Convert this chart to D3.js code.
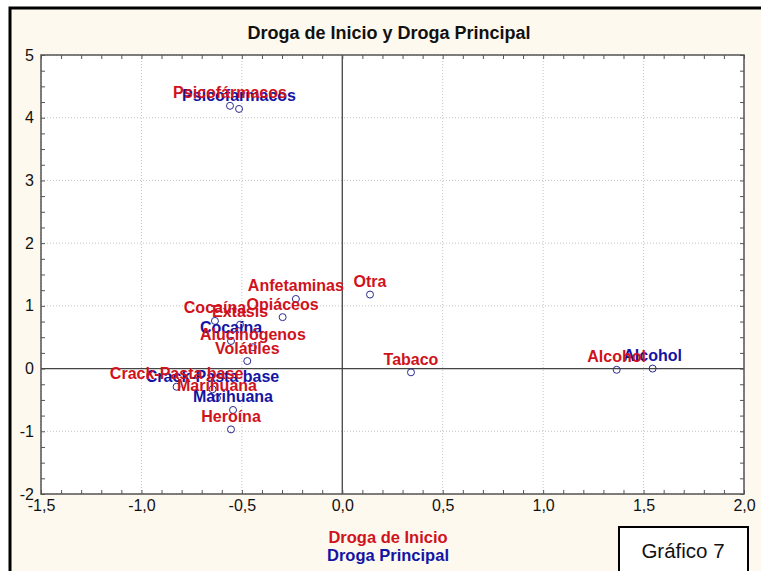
<!DOCTYPE html>
<html>
<head>
<meta charset="utf-8">
<script src="https://cdn.jsdelivr.net/npm/d3@7"></script>
<style>
  html, body { margin: 0; background: #fff; overflow: hidden; }
  svg { display: block; font-family: Arial, "Liberation Sans", sans-serif; }
</style>
</head>
<body>
<div class="chart"></div>
<script>
// Droga de Inicio (red)
var inicioNames = ["Psicofármacos", "Anfetaminas", "Otra", "Opiáceos", "Cocaína", "Extasis",
    "Alucinógenos", "Volátiles", "Tabaco", "Alcohol", "Crack-Pasta base", "Marihuana", "Heroína"];
var inicioX = [-0.559, -0.231, 0.138, -0.297, -0.634, -0.509, -0.445, -0.473, 0.342, 1.366, -0.825, -0.624, -0.554];
var inicioY = [4.19, 1.11, 1.18, 0.82, 0.76, 0.70, 0.34, 0.12, -0.06, -0.02, -0.29, -0.47, -0.97];

// Droga Principal (blue)
var principalNames = ["Psicofarmacos", "Cocaína", "Crack-Pasta base", "Marihuana", "Alcohol"];
var principalX = [-0.514, -0.554, -0.646, -0.544, 1.545];
var principalY = [4.14, 0.44, -0.33, -0.66, 0.00];

var xTicks = [-1.5, -1.0, -0.5, 0.0, 0.5, 1.0, 1.5, 2.0];
var yTicks = [-2, -1, 0, 1, 2, 3, 4, 5];

var dim = {
    width: 761, height: 571,
    plot: { left: 41, top: 55, right: 744, bottom: 494 }
};

var red = "#d0121c", blue = "#1414a4";
var font = "Arial, 'Liberation Sans', sans-serif";

var x = d3.scaleLinear().domain([-1.5, 2.0]).range([dim.plot.left, dim.plot.right]);
var y = d3.scaleLinear().domain([-2, 5]).range([dim.plot.bottom, dim.plot.top]);

var svg = d3.select(".chart").append("svg")
    .attr("width", dim.width)
    .attr("height", dim.height);

// cream panel, only its top and left border show
svg.append("rect")
    .attr("x", 10).attr("y", 8)
    .attr("width", dim.width).attr("height", dim.height)
    .attr("fill", "#fdf9ef");
svg.append("path")
    .attr("d", "M10," + dim.height + "V8H" + dim.width)
    .attr("fill", "none")
    .attr("stroke", "#000")
    .attr("stroke-width", 3);

svg.append("text")
    .attr("x", 389).attr("y", 39)
    .attr("text-anchor", "middle")
    .style("font-size", "18px")
    .style("font-weight", "bold")
    .attr("fill", "#111")
    .text("Droga de Inicio y Droga Principal");

var pw = dim.plot.right - dim.plot.left, ph = dim.plot.bottom - dim.plot.top;

svg.append("rect")
    .attr("x", dim.plot.left).attr("y", dim.plot.top)
    .attr("width", pw).attr("height", ph)
    .attr("fill", "#fff");

// grid
var grid = svg.append("g").attr("stroke", "#c4c4c4").attr("stroke-dasharray", "1,2");
grid.selectAll("line.gx").data(xTicks.filter(function(d) { return d !== 0; })).enter()
    .append("line")
    .attr("x1", function(d) { return x(d); }).attr("x2", function(d) { return x(d); })
    .attr("y1", dim.plot.top).attr("y2", dim.plot.bottom);
grid.selectAll("line.gy").data(yTicks.filter(function(d) { return d !== 0; })).enter()
    .append("line")
    .attr("y1", function(d) { return y(d); }).attr("y2", function(d) { return y(d); })
    .attr("x1", dim.plot.left).attr("x2", dim.plot.right);

// zero lines
svg.append("line")
    .attr("x1", x(0)).attr("x2", x(0))
    .attr("y1", dim.plot.top).attr("y2", dim.plot.bottom)
    .attr("stroke", "#444").attr("stroke-width", 1.3);
svg.append("line")
    .attr("y1", y(0)).attr("y2", y(0))
    .attr("x1", dim.plot.left).attr("x2", dim.plot.right)
    .attr("stroke", "#444").attr("stroke-width", 1.3);

// small inside ticks on all four sides
var xMinor = d3.range(-15, 21).map(function(i) { return i / 10; });
var yMinor = d3.range(-8, 21).map(function(i) { return i / 4; });

function tickAxis(axis, t) {
    svg.append("g")
        .attr("transform", t)
        .call(axis.tickSize(-4).tickFormat(""))
        .call(function(g) {
            g.select(".domain").remove();
            g.selectAll("line").attr("stroke", "#555");
        });
}
tickAxis(d3.axisBottom(x).tickValues(xMinor), "translate(0," + dim.plot.bottom + ")");
tickAxis(d3.axisTop(x).tickValues(xMinor), "translate(0," + dim.plot.top + ")");
tickAxis(d3.axisLeft(y).tickValues(yMinor), "translate(" + dim.plot.left + ",0)");
tickAxis(d3.axisRight(y).tickValues(yMinor), "translate(" + dim.plot.right + ",0)");

// frame
svg.append("rect")
    .attr("x", dim.plot.left).attr("y", dim.plot.top)
    .attr("width", pw).attr("height", ph)
    .attr("fill", "none")
    .attr("stroke", "#555")
    .attr("stroke-width", 1.5);

// tick labels
var fmt = function(d) { return d3.format(".1f")(d).replace(".", ",").replace("−", "-"); };
svg.append("g")
    .attr("transform", "translate(0," + dim.plot.bottom + ")")
    .call(d3.axisBottom(x).tickValues(xTicks).tickSize(0).tickPadding(6).tickFormat(fmt))
    .call(function(g) {
        g.select(".domain").remove();
        g.selectAll("text").style("font-size", "16px").style("font-family", font).attr("fill", "#111");
    });
svg.append("g")
    .attr("transform", "translate(" + dim.plot.left + ",0)")
    .call(d3.axisLeft(y).tickValues(yTicks).tickSize(0).tickPadding(7).tickFormat(function(d) { return String(d).replace("−", "-"); }))
    .call(function(g) {
        g.select(".domain").remove();
        g.selectAll("text").style("font-size", "16px").style("font-family", font).attr("fill", "#111");
    });

// points
var inicio = inicioNames.map(function(n, i) { return { name: n, x: inicioX[i], y: inicioY[i] }; });
var principal = principalNames.map(function(n, i) { return { name: n, x: principalX[i], y: principalY[i] }; });
var all = inicio.concat(principal);

svg.append("g").selectAll("circle").data(all).enter()
    .append("circle")
    .attr("cx", function(d) { return x(d.x); })
    .attr("cy", function(d) { return y(d.y); })
    .attr("r", 3.5)
    .attr("fill", "none")
    .attr("stroke", "#2a2a90")
    .attr("stroke-width", 1);

function labels(data, color) {
    svg.append("g").selectAll("text").data(data).enter()
        .append("text")
        .attr("x", function(d) { return x(d.x); })
        .attr("y", function(d) { return y(d.y) - 7.5; })
        .attr("text-anchor", "middle")
        .style("font-size", "16px")
        .style("font-weight", "bold")
        .attr("fill", color)
        .text(function(d) { return d.name; });
}
labels(principal, blue);
labels(inicio, red);

// axis legend
svg.append("text")
    .attr("x", 388).attr("y", 543)
    .attr("text-anchor", "middle")
    .style("font-size", "16.5px").style("font-weight", "bold")
    .attr("fill", red)
    .text("Droga de Inicio");
svg.append("text")
    .attr("x", 388).attr("y", 561)
    .attr("text-anchor", "middle")
    .style("font-size", "16.5px").style("font-weight", "bold")
    .attr("fill", blue)
    .text("Droga Principal");

// figure tag
svg.append("rect")
    .attr("x", 619).attr("y", 527)
    .attr("width", 129).attr("height", 60)
    .attr("fill", "#fff")
    .attr("stroke", "#000")
    .attr("stroke-width", 2);
svg.append("text")
    .attr("x", 683).attr("y", 558)
    .attr("text-anchor", "middle")
    .style("font-size", "20.5px")
    .attr("fill", "#111")
    .text("Gráfico 7");
</script>
</body>
</html>
